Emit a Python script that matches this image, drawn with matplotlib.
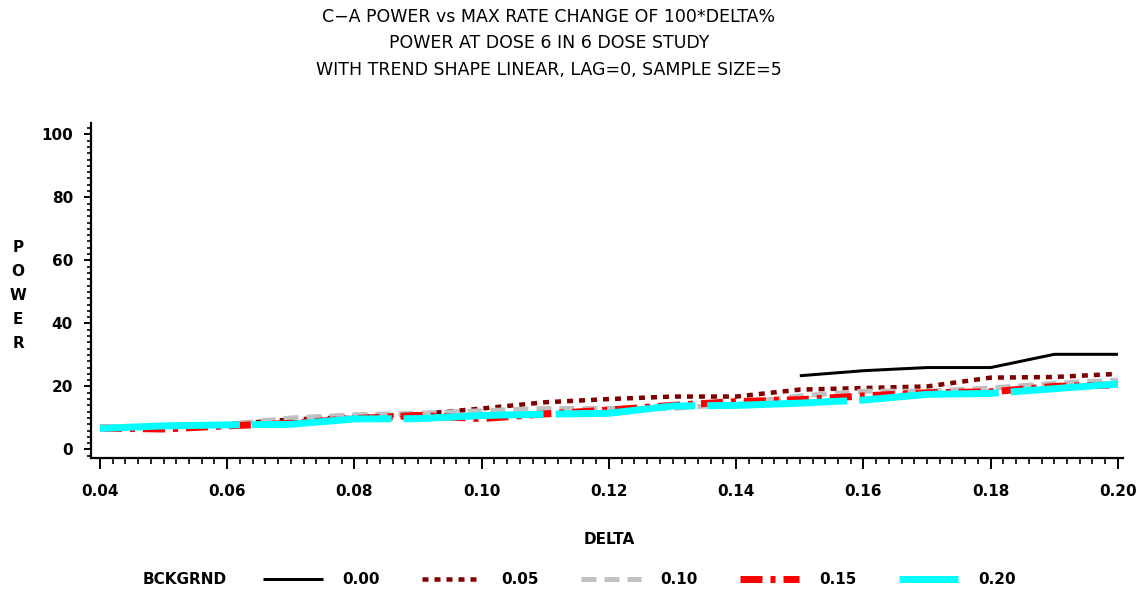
import numpy as np
import matplotlib
matplotlib.use("Agg")
import matplotlib.pyplot as plt
from matplotlib.ticker import MultipleLocator, FormatStrFormatter

plt.rcParams['lines.scale_dashes'] = False

delta = [0.04, 0.05, 0.06, 0.07, 0.08, 0.09, 0.10, 0.11, 0.12,
         0.13, 0.14, 0.15, 0.16, 0.17, 0.18, 0.19, 0.20]
nan = np.nan
power_000 = [nan, nan, nan, nan, nan, nan, nan, nan, nan,
             nan, nan, 23.4, 25.0, 26.0, 26.0, 30.2, 30.2]
power_005 = [7.0, 7.2, 8.0, 9.5, 10.3, 11.2, 13.0, 15.0, 16.0,
             16.8, 16.8, 19.0, 19.5, 20.0, 22.8, 23.0, 24.0]
power_010 = [7.0, 7.5, 8.0, 10.0, 11.0, 11.5, 12.3, 13.0, 13.0,
             13.0, 14.5, 17.0, 18.5, 18.5, 19.5, 21.0, 22.0]
power_015 = [6.8, 6.5, 7.5, 8.3, 9.8, 10.8, 9.8, 11.3, 12.5,
             14.0, 15.2, 15.8, 17.0, 18.0, 18.3, 20.0, 20.5]
power_020 = [6.7, 7.5, 7.8, 8.0, 9.7, 9.8, 10.8, 11.2, 11.5,
             13.8, 14.0, 14.7, 15.7, 17.5, 17.8, 19.3, 20.8]
labels = ['0.00', '0.05', '0.10', '0.15', '0.20']

W, H = 1141, 594
fig = plt.figure(figsize=(W / 100, H / 100), dpi=100)
ax = fig.add_axes([91 / W, 1 - 458 / H, (1123 - 91) / W, (458 - 123) / H])

px = 0.72  # points per pixel
styles = [
    dict(color='black', lw=3 * px, ls='-'),
    dict(color='#800000', lw=4.5 * px, ls=(0, (6 * px, 6 * px))),
    dict(color='#c0c0c0', lw=5 * px, ls=(0, (15 * px, 8 * px))),
    dict(color='#ff0000', lw=7 * px, ls=(0, (22 * px, 8 * px, 5 * px, 8 * px))),
    dict(color='#00ffff', lw=7 * px, ls=(0, (140 * px, 12 * px))),
]
series = [power_000, power_005, power_010, power_015, power_020]
handles = []
for vals, st, lab in zip(series, styles, labels):
    h, = ax.plot(delta, vals, color=st['color'], lw=st['lw'], linestyle=st['ls'],
                 solid_capstyle='butt', dash_capstyle='butt', label=lab)
    handles.append(h)

ax.set_xlim(0.03859, 0.2008)
ax.set_ylim(-2.7, 103.6)
ax.spines['top'].set_visible(False)
ax.spines['right'].set_visible(False)
for s in ['left', 'bottom']:
    ax.spines[s].set_linewidth(1.6)

ax.xaxis.set_major_locator(MultipleLocator(0.02))
ax.xaxis.set_minor_locator(MultipleLocator(0.002))
ax.xaxis.set_major_formatter(FormatStrFormatter('%.2f'))
ax.yaxis.set_major_locator(MultipleLocator(20))
ax.yaxis.set_minor_locator(MultipleLocator(2))
ax.tick_params(axis='x', which='major', length=8, width=1.4, pad=11,
               labelsize=11)
ax.tick_params(axis='x', which='minor', length=4.5, width=1.2)
ax.tick_params(axis='y', which='major', length=5, width=1.4, pad=8,
               labelsize=11)
ax.tick_params(axis='y', which='minor', length=3, width=1.2)
for lab in ax.get_xticklabels() + ax.get_yticklabels():
    lab.set_fontweight('bold')

title_lines = ["C\u2212A POWER vs MAX RATE CHANGE OF 100*DELTA%",
               "POWER AT DOSE 6 IN 6 DOSE STUDY",
               "WITH TREND SHAPE LINEAR, LAG=0, SAMPLE SIZE=5"]
for i, t in enumerate(title_lines):
    fig.text(549 / W, 1 - (17 + 26.5 * i) / H, t, ha='center', va='center',
             fontsize=12.5, family='DejaVu Sans', color='black')

fig.text(18 / W, 1 - 295 / H, "P\nO\nW\nE\nR", ha='center', va='center',
         fontsize=11, fontweight='bold', linespacing=1.75)
fig.text(609 / W, 1 - 539 / H, "DELTA", ha='center', va='center',
         fontsize=11, fontweight='bold')

fig.text(143 / W, 1 - 580 / H, "BCKGRND", ha='left', va='center',
         fontsize=11, fontweight='bold')
leg = fig.legend(handles, labels, loc='center left', ncol=5, frameon=False,
                 bbox_to_anchor=(263 / W, 1 - 580 / H), borderpad=0,
                 borderaxespad=0, handlelength=3.9, handletextpad=1.3,
                 columnspacing=2.75, prop=dict(size=11, weight='bold'))

fig.savefig('out.png', dpi=100)
